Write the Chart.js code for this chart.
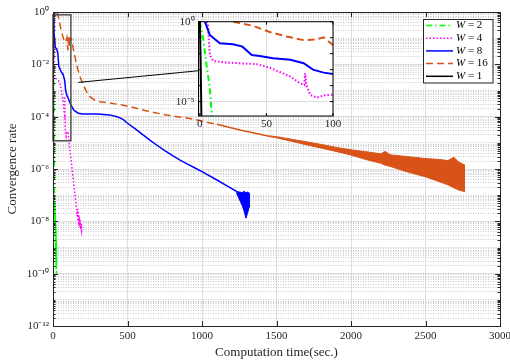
<!DOCTYPE html>
<html>
<head>
<meta charset="utf-8">
<title>Convergence rate</title>
<script src="https://cdn.jsdelivr.net/npm/chart.js@4.4.1/dist/chart.umd.min.js"></script>
<style>
    html, body { margin: 0; padding: 0; background: #fff; overflow: hidden; }
    #wrap { position: relative; width: 510px; height: 362px; overflow: hidden; }
    #main-chart { position: absolute; left: 0; top: 0; }
    #inset-chart { position: absolute; left: 160px; top: 8px; }
</style>
</head>
<body>
<div id="wrap">
    <canvas id="main-chart" width="530" height="362"></canvas>
    <canvas id="inset-chart" width="190" height="130"></canvas>
</div>
<script>
const serif = "'Liberation Serif', 'Times New Roman', serif"
const ink = '#262626'

// computation time (sec.) and convergence rate for each W
const w2Time = [0, 2.5, 5, 7.5, 9, 10.5, 12, 13, 14, 15, 16, 17, 18, 19, 20, 21, 22, 23, 24, 25]
const w2Rate = [1, 9e-2, 2e-3, 7e-5, 1.5e-6, 1e-7, 6e-8, 1e-8, 5e-8, 3e-9, 2e-8, 8e-10, 1e-8, 4e-10, 5e-9, 1.5e-10, 2e-9, 9e-11, 1e-9, 1.2e-10]

const w4Time = [5, 6, 7.5, 10, 17, 30, 43, 53, 60, 68, 75, 78.5, 79, 80, 83, 88, 93, 100, 115, 130,
    145, 159, 162, 165, 168, 171, 174, 177, 180, 183, 186, 189, 192, 195]
const w4Rate = [1, 0.794, 8.3e-3, 3.5e-3, 2.9e-3, 2.5e-3, 2.2e-3, 1.26e-3, 7.1e-4, 3.7e-4, 1.41e-4, 1.12e-4, 6e-4, 1.1e-4, 2.6e-5, 1.78e-5, 2.5e-5, 2.75e-5, 4.7e-6, 7.9e-7,
    1.4e-7, 2.8e-8, 1.6e-8, 3e-8, 1e-8, 2.2e-8, 7e-9, 1.5e-8, 6e-9, 1.1e-8, 5e-9, 8e-9, 4.6e-9, 6e-9]

const w8Time = [3.8, 7.5, 15, 25, 32, 39, 45, 55, 68, 78, 85, 93, 100, 120, 140, 170, 200, 300, 380, 430,
    470, 500, 550, 600, 650, 700, 750, 800, 850, 900, 950, 1000, 1100, 1200, 1230]
const w8Rate = [1, 0.148, 0.0447, 0.0389, 0.0275, 8.3e-3, 7.2e-3, 5.1e-3, 4.1e-3, 2.5e-3, 1e-3, 6.5e-4, 5.4e-4, 2.8e-4, 1.78e-4, 1.35e-4, 1.26e-4, 1.26e-4, 1.17e-4, 1e-4,
    7.9e-5, 5.6e-5, 3.5e-5, 2.1e-5, 1.26e-5, 7.9e-6, 5e-6, 3.3e-6, 2.24e-6, 1.58e-6, 1.12e-6, 7.9e-7, 3.8e-7, 1.78e-7, 1.41e-7]
const w8NoiseTime = [1230, 1250, 1270, 1285, 1295, 1305, 1315, 1322]
const w8NoiseHigh = [1.41e-7, 1.32e-7, 1.26e-7, 1.41e-7, 1.2e-7, 1.32e-7, 1.26e-7, 1.12e-7]
const w8NoiseLow = [1.26e-7, 7.1e-8, 4e-8, 2.24e-8, 1.32e-8, 2e-8, 3.2e-8, 4e-8]

const w16Time = [25, 40, 53, 65, 78, 88, 93, 100, 105, 110, 115, 125, 140, 159, 180, 204, 225, 248, 280, 315,
    400, 472, 560, 651, 765, 919, 1100, 1255, 1450]
const w16Rate = [1, 0.55, 0.22, 0.12, 0.07, 0.08, 0.105, 0.035, 0.12, 0.05, 0.1, 0.09, 0.03, 9.3e-3, 3.5e-3, 1.6e-3, 9e-4, 5.8e-4, 4.3e-4, 3.7e-4,
    3.2e-4, 2.75e-4, 2.1e-4, 1.55e-4, 1.15e-4, 8.5e-5, 5.1e-5, 3.1e-5, 1.8e-5]
const w16NoiseTime = [1450, 1500, 1600, 1700, 1800, 1900, 2000, 2100, 2200, 2230, 2262, 2300, 2373, 2450, 2503, 2597, 2650, 2690, 2720, 2765]
const w16NoiseHigh = [1.85e-5, 1.72e-5, 1.38e-5, 1.1e-5, 8.7e-6, 6.7e-6, 5.4e-6, 4.6e-6, 3.8e-6, 4.7e-6, 3.5e-6, 3.3e-6, 3e-6, 2.7e-6, 2.5e-6, 2.3e-6, 2.1e-6, 2.8e-6, 1.9e-6, 1.4e-6]
const w16NoiseLow = [1.75e-5, 1.55e-5, 1.15e-5, 8.4e-6, 6.3e-6, 4.7e-6, 3.4e-6, 2.3e-6, 1.65e-6, 1.4e-6, 1.26e-6, 1.07e-6, 7.9e-7, 6e-7, 5e-7, 3.2e-7, 2.5e-7, 1.9e-7, 1.6e-7, 1.35e-7]

const w1Time = [0, 0.6, 1.2, 1.5]
const w1Rate = [1, 4e-3, 1e-6, 1e-8]

const xTicks = [0, 500, 1000, 1500, 2000, 2500, 3000]
const yMajorExp = [-12, -10, -8, -6, -4, -2, 0]
const yTickLabels = ['10⁻¹²', '10⁻¹⁰', '10⁻⁸', '10⁻⁶', '10⁻⁴', '10⁻²', '10⁰']
const insetXTicks = [0, 50, 100]
const insetYExp = [-5, 0]
const insetYLabels = ['10⁻⁵', '10⁰']

const series = [
    { label: 'W = 2', time: w2Time, rate: w2Rate, color: '#00ff00', dash: [6, 3, 1.5, 3] },
    { label: 'W = 4', time: w4Time, rate: w4Rate, color: '#ff00ff', dash: [1.5, 2] },
    { label: 'W = 8', time: w8Time, rate: w8Rate, color: '#0000ff', dash: [] },
    { label: 'W = 16', time: w16Time, rate: w16Rate, color: '#d95319', dash: [7, 4] },
    { label: 'W = 1', time: w1Time, rate: w1Rate, color: '#000000', dash: [] },
]
// noisy tails: filled between an upper and a lower envelope
const bands = [
    { color: '#0000ff', time: w8NoiseTime, high: w8NoiseHigh, low: w8NoiseLow, order: 16 },
    { color: '#d95319', time: w16NoiseTime, high: w16NoiseHigh, low: w16NoiseLow, order: 14 },
]

function pts(t, v) {
    return t.map((x, i) => ({ x: x, y: v[i] }))
}

function expOf(v) {
    return Math.log10(v)
}

function isDecade(v) {
    return Math.abs(expOf(v) - Math.round(expOf(v))) < 1e-9
}

function makeDatasets(width, withBands) {
    const sets = series.map((s, i) => ({
        label: s.label,
        data: pts(s.time, s.rate),
        borderColor: s.color,
        backgroundColor: s.color,
        borderWidth: width,
        borderDash: s.dash,
        pointRadius: 0,
        fill: false,
        order: 20 - i * 2,
        inLegend: true
    }))
    if (withBands) {
        // the long W = 16 tail looks solid once the noise sets in
        sets[3].segment = { borderDash: c => c.p0.parsed.x >= 1000 ? [] : undefined }
        bands.forEach(b => {
            sets.push({ data: pts(b.time, b.high), borderColor: b.color, backgroundColor: b.color,
                borderWidth: 1, pointRadius: 0, fill: '+1', order: b.order })
            sets.push({ data: pts(b.time, b.low), borderColor: b.color, backgroundColor: b.color,
                borderWidth: 1, pointRadius: 0, fill: false, order: b.order })
        })
    }
    return sets
}

// all k*10^n ticks for the log grid
const yAllTicks = []
for (let n = -12; n < 0; n++) {
    for (let k = 1; k < 10; k++) yAllTicks.push(k * Math.pow(10, n))
}
yAllTicks.push(1)

function isMajorY(v) {
    return isDecade(v) && yMajorExp.includes(Math.round(expOf(v)))
}

const mainFrame = {
    id: 'mainFrame',
    afterDatasetsDraw(chart) {
        const { ctx, chartArea: a, scales: { x, y } } = chart
        ctx.save()
        // zoom window and connector to the inset
        ctx.strokeStyle = '#505050'
        ctx.lineWidth = 1.5
        const bx0 = x.getPixelForValue(0), bx1 = x.getPixelForValue(120)
        const by0 = y.getPixelForValue(0.78), by1 = y.getPixelForValue(1.2e-5)
        ctx.strokeRect(bx0, by0, bx1 - bx0, by1 - by0)
        ctx.strokeStyle = '#000'
        ctx.lineWidth = 1
        ctx.beginPath()
        ctx.moveTo(x.getPixelForValue(170), y.getPixelForValue(2.04e-3))
        ctx.lineTo(x.getPixelForValue(976), y.getPixelForValue(5.69e-3))
        ctx.stroke()

        // axes box with inward ticks
        ctx.strokeStyle = ink
        ctx.lineWidth = 1
        ctx.strokeRect(a.left + 0.5, a.top + 0.5, a.right - a.left, a.bottom - a.top)
        ctx.beginPath()
        x.ticks.forEach(t => {
            const px = Math.round(x.getPixelForValue(t.value)) + 0.5
            ctx.moveTo(px, a.bottom); ctx.lineTo(px, a.bottom - 5)
            ctx.moveTo(px, a.top); ctx.lineTo(px, a.top + 5)
        })
        y.ticks.forEach(t => {
            const py = Math.round(y.getPixelForValue(t.value)) + 0.5
            const len = isMajorY(t.value) ? 5 : 2.5
            ctx.moveTo(a.left, py); ctx.lineTo(a.left + len, py)
            ctx.moveTo(a.right, py); ctx.lineTo(a.right - len, py)
        })
        ctx.stroke()

        // legend box
        const lx = a.right - 77, ly = a.top + 7, lw = 69.5, lh = 63.5
        ctx.fillStyle = '#fff'
        ctx.fillRect(lx, ly, lw, lh)
        ctx.strokeStyle = ink
        ctx.strokeRect(lx + 0.5, ly + 0.5, lw, lh)
        const entries = chart.data.datasets.filter(d => d.inLegend)
        ctx.textBaseline = 'middle'
        entries.forEach((d, i) => {
            const yy = ly + 6.5 + i * 12.7
            ctx.strokeStyle = d.borderColor
            ctx.lineWidth = d.borderWidth
            ctx.setLineDash(d.borderDash)
            ctx.beginPath()
            ctx.moveTo(lx + 3, yy); ctx.lineTo(lx + 30, yy)
            ctx.stroke()
            ctx.setLineDash([])
            ctx.fillStyle = '#000'
            ctx.font = 'italic 11px ' + serif
            ctx.fillText('W', lx + 33, yy)
            const w = ctx.measureText('W').width
            ctx.font = '11px ' + serif
            ctx.fillText(d.label.slice(1), lx + 33 + w, yy)
        })
        ctx.restore()
    }
}

const mainCtx = document.getElementById('main-chart').getContext('2d')
const mainChart = new Chart(mainCtx, {
    type: 'line',
    data: { datasets: makeDatasets(1.5, true) },
    options: {
        responsive: false,
        animation: false,
        events: [],
        layout: { padding: { left: 0, right: 30, top: 12, bottom: 0 } },
        plugins: { legend: { display: false }, tooltip: { enabled: false } },
        scales: {
            x: {
                type: 'linear',
                min: 0,
                max: 3000,
                afterBuildTicks: s => { s.ticks = xTicks.map(v => ({ value: v })) },
                afterFit: s => { s.height = 36 },
                grid: { color: '#dedede', drawTicks: false },
                border: { display: false },
                ticks: {
                    autoSkip: false, maxRotation: 0, padding: 4, color: ink,
                    font: { family: serif, size: 11 },
                    callback: v => String(v)
                },
                title: {
                    display: true, text: 'Computation time(sec.)', color: ink,
                    font: { family: serif, size: 13 }, padding: { top: 0, bottom: 2 }
                }
            },
            y: {
                type: 'logarithmic',
                min: 1e-12,
                max: 1,
                afterBuildTicks: s => { s.ticks = yAllTicks.map(v => ({ value: v })) },
                afterFit: s => { s.width = 53 },
                grid: {
                    drawTicks: false,
                    color: c => (c.tick && !isMajorY(c.tick.value)) ? '#cacaca' : '#dedede'
                },
                border: {
                    display: false,
                    dash: c => (c.tick && !isMajorY(c.tick.value)) ? [1, 1.5] : []
                },
                ticks: {
                    autoSkip: false, padding: 4, color: ink,
                    font: { family: serif, size: 11 },
                    callback: v => {
                        if (!isMajorY(v)) return ''
                        return yTickLabels[yMajorExp.indexOf(Math.round(expOf(v)))]
                    }
                },
                title: {
                    display: true, text: 'Convergence rate', color: ink,
                    font: { family: serif, size: 13 }, padding: { top: 5, bottom: 0 }
                }
            }
        }
    },
    plugins: [mainFrame]
})

const insetFrame = {
    id: 'insetFrame',
    beforeDraw(chart) {
        const { ctx, chartArea: a } = chart
        ctx.save()
        ctx.fillStyle = '#fff'
        ctx.fillRect(a.left, a.top, a.right - a.left, a.bottom - a.top)
        ctx.restore()
    },
    afterDatasetsDraw(chart) {
        const { ctx, chartArea: a, scales: { x, y } } = chart
        ctx.save()
        ctx.strokeStyle = '#000'
        ctx.lineWidth = 1
        ctx.strokeRect(a.left, a.top, a.right - a.left, a.bottom - a.top)
        ctx.beginPath()
        insetXTicks.forEach(v => {
            const px = x.getPixelForValue(v)
            ctx.moveTo(px, a.bottom); ctx.lineTo(px, a.bottom - 3)
            ctx.moveTo(px, a.top); ctx.lineTo(px, a.top + 3)
        })
        for (let n = -5; n <= 0; n++) {
            const py = y.getPixelForValue(Math.pow(10, n))
            ctx.moveTo(a.left, py); ctx.lineTo(a.left + 3, py)
            ctx.moveTo(a.right, py); ctx.lineTo(a.right - 3, py)
        }
        ctx.stroke()
        ctx.restore()
    }
}

const insetCtx = document.getElementById('inset-chart').getContext('2d')
const insetChart = new Chart(insetCtx, {
    type: 'line',
    data: { datasets: makeDatasets(2, false) },
    options: {
        responsive: false,
        animation: false,
        events: [],
        layout: { padding: { left: 0, right: 17, top: 13.7, bottom: 0 } },
        plugins: { legend: { display: false }, tooltip: { enabled: false } },
        scales: {
            x: {
                type: 'linear',
                min: -1,
                max: 100,
                afterBuildTicks: s => { s.ticks = insetXTicks.map(v => ({ value: v })) },
                afterFit: s => { s.height = 22 },
                grid: { color: '#dedede', drawTicks: false },
                border: { display: false },
                ticks: {
                    autoSkip: false, maxRotation: 0, padding: 1.5, color: ink,
                    font: { family: serif, size: 11 },
                    callback: v => String(v)
                }
            },
            y: {
                type: 'logarithmic',
                min: 1.26e-6,
                max: 1,
                afterBuildTicks: s => { s.ticks = insetYExp.map(n => ({ value: Math.pow(10, n) })) },
                afterFit: s => { s.width = 38.5 },
                grid: { color: '#dedede', drawTicks: false },
                border: { display: false },
                ticks: {
                    autoSkip: false, padding: 4, color: ink,
                    font: { family: serif, size: 11 },
                    callback: v => insetYLabels[insetYExp.indexOf(Math.round(expOf(v)))]
                }
            }
        }
    },
    plugins: [insetFrame]
})
</script>
</body>
</html>
